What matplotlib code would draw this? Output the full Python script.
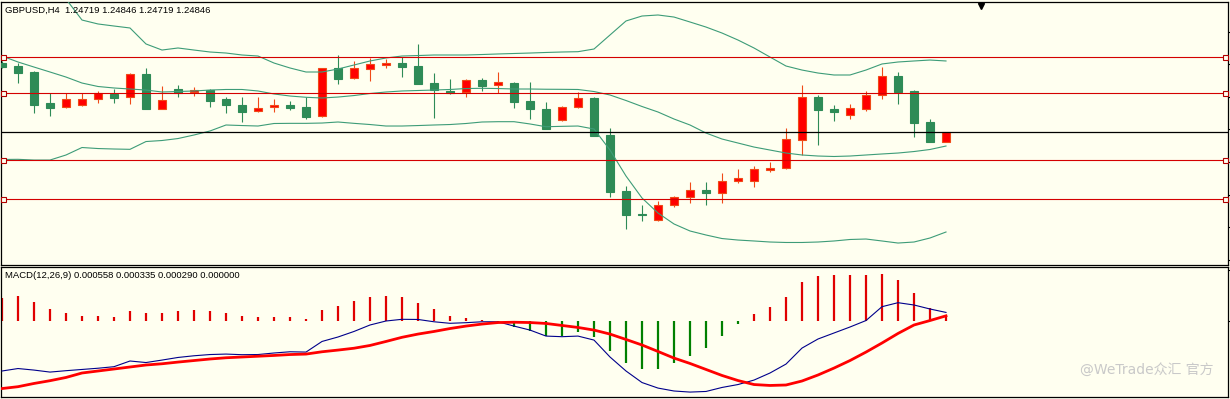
import matplotlib.pyplot as plt
from matplotlib.transforms import blended_transform_factory

# GBPUSD H4 candles (oldest -> newest)
opens = [1.25731, 1.25689, 1.25613, 1.25219, 1.25165, 1.25190, 1.25266, 1.25334, 1.25292, 1.25588,
         1.25147, 1.25397, 1.25355, 1.25380, 1.25266, 1.25190, 1.25114, 1.25165, 1.25190, 1.25165,
         1.25050, 1.25660, 1.25533, 1.25647, 1.25706, 1.25727, 1.25689, 1.25477, 1.25375, 1.25363,
         1.25511, 1.25444, 1.25473, 1.25245, 1.25143, 1.25000, 1.25165, 1.25283, 1.24813, 1.24102,
         1.23810, 1.23730, 1.23920, 1.24022, 1.24114, 1.24072, 1.24225, 1.24225, 1.24372, 1.24390,
         1.24753, 1.25292, 1.25139, 1.25063, 1.25149, 1.25317, 1.25562, 1.25375, 1.24978, 1.24719]
highs = [1.25753, 1.25731, 1.25629, 1.25342, 1.25342, 1.25342, 1.25372, 1.25397, 1.25604, 1.25664,
         1.25435, 1.25448, 1.25426, 1.25393, 1.25299, 1.25295, 1.25299, 1.25266, 1.25245, 1.25292,
         1.25664, 1.25829, 1.25753, 1.25787, 1.25774, 1.25807, 1.25969, 1.25600, 1.25520, 1.25524,
         1.25541, 1.25613, 1.25482, 1.25486, 1.25232, 1.25181, 1.25359, 1.25299, 1.24902, 1.24165,
         1.23924, 1.23975, 1.24038, 1.24216, 1.24216, 1.24334, 1.24381, 1.24419, 1.24474, 1.24898,
         1.25448, 1.25321, 1.25194, 1.25203, 1.25372, 1.25680, 1.25613, 1.25384, 1.25012, 1.24846]
lows = [1.25664, 1.25477, 1.25088, 1.25058, 1.25160, 1.25185, 1.25223, 1.25223, 1.25210, 1.25140,
        1.25140, 1.25299, 1.25312, 1.25172, 1.25096, 1.24982, 1.25108, 1.25109, 1.25130, 1.25020,
        1.25045, 1.25464, 1.25530, 1.25502, 1.25660, 1.25546, 1.25460, 1.25033, 1.25330, 1.25299,
        1.25375, 1.25342, 1.25160, 1.25020, 1.24885, 1.24995, 1.25160, 1.24796, 1.24022, 1.23615,
        1.23724, 1.23725, 1.23902, 1.23945, 1.23928, 1.23945, 1.24199, 1.24156, 1.24347, 1.24385,
        1.24559, 1.24682, 1.24994, 1.25012, 1.25121, 1.25266, 1.25203, 1.24791, 1.24723, 1.24719]
closes = [1.25680, 1.25604, 1.25198, 1.25160, 1.25266, 1.25266, 1.25342, 1.25287, 1.25588, 1.25147,
          1.25257, 1.25342, 1.25384, 1.25248, 1.25190, 1.25109, 1.25152, 1.25190, 1.25160, 1.25045,
          1.25660, 1.25528, 1.25668, 1.25715, 1.25727, 1.25680, 1.25464, 1.25384, 1.25350, 1.25507,
          1.25439, 1.25482, 1.25236, 1.25147, 1.24893, 1.25168, 1.25283, 1.24804, 1.24093, 1.23801,
          1.23793, 1.23924, 1.24029, 1.24114, 1.24072, 1.24229, 1.24263, 1.24377, 1.24398, 1.24762,
          1.25292, 1.25134, 1.25101, 1.25152, 1.25321, 1.25562, 1.25363, 1.24969, 1.24728, 1.24846]

# Bollinger bands (20,2)
bb_upper = [1.27035, 1.26908, 1.26807, 1.26680, 1.26540, 1.26273, 1.26223, 1.26197, 1.26172, 1.25969,
            1.25892, 1.25918, 1.25892, 1.25867, 1.25854, 1.25829, 1.25816, 1.25727, 1.25664, 1.25613,
            1.25613, 1.25651, 1.25702, 1.25753, 1.25791, 1.25816, 1.25822, 1.25829, 1.25829, 1.25829,
            1.25835, 1.25842, 1.25848, 1.25854, 1.25861, 1.25867, 1.25871, 1.25905, 1.26083, 1.26261,
            1.26324, 1.26337, 1.26311, 1.26248, 1.26184, 1.26108, 1.26019, 1.25918, 1.25803, 1.25689,
            1.25638, 1.25600, 1.25575, 1.25575, 1.25638, 1.25715, 1.25740, 1.25753, 1.25765, 1.25753]
bb_mid = [1.25816, 1.25740, 1.25676, 1.25613, 1.25549, 1.25473, 1.25429, 1.25410, 1.25397, 1.25384,
          1.25359, 1.25365, 1.25372, 1.25384, 1.25391, 1.25391, 1.25372, 1.25334, 1.25308, 1.25292,
          1.25283, 1.25295, 1.25314, 1.25340, 1.25359, 1.25372, 1.25378, 1.25384, 1.25391, 1.25403,
          1.25406, 1.25403, 1.25397, 1.25397, 1.25394, 1.25393, 1.25391, 1.25365, 1.25321, 1.25251,
          1.25175, 1.25105, 1.25016, 1.24940, 1.24838, 1.24762, 1.24711, 1.24660, 1.24622, 1.24584,
          1.24559, 1.24546, 1.24540, 1.24546, 1.24559, 1.24572, 1.24584, 1.24603, 1.24629, 1.24673]
bb_lower = [1.24502, 1.24504, 1.24495, 1.24495, 1.24559, 1.24654, 1.24641, 1.24635, 1.24631, 1.24730,
            1.24743, 1.24768, 1.24813, 1.24864, 1.24940, 1.24933, 1.24927, 1.24959, 1.24961, 1.24961,
            1.24965, 1.24978, 1.24961, 1.24946, 1.24927, 1.24927, 1.24933, 1.24940, 1.24946, 1.24959,
            1.24978, 1.24982, 1.24982, 1.24953, 1.24918, 1.24923, 1.24927, 1.24889, 1.24622, 1.24292,
            1.24013, 1.23822, 1.23683, 1.23594, 1.23543, 1.23498, 1.23479, 1.23467, 1.23454, 1.23448,
            1.23448, 1.23454, 1.23467, 1.23486, 1.23492, 1.23467, 1.23441, 1.23454, 1.23505, 1.23581]

# horizontal levels drawn on the chart, and the bid line
level_prices = [1.25800, 1.25350, 1.24500, 1.24000]
bid_price = 1.24846
price_ticks = [1.26127, 1.25713, 1.25299, 1.24885, 1.24471, 1.24057, 1.23643, 1.23229]

# MACD(12,26,9), in pips
macd_hist = [14.8, 16.4, 12.4, 7.8, 5.4, 3.4, 3.4, 2.6, 6.5, 5.0,
             5.4, 6.5, 7.2, 6.5, 5.4, 3.4, 2.6, 2.6, 2.6, 1.3,
             7.2, 9.8, 12.8, 15.6, 16.4, 15.8, 11.9, 7.8, 3.3, 1.8,
             0.6, -1.5, -3.7, -6.3, -9.8, -9.8, -7.0, -10.2, -19.3, -27.1,
             -31.4, -31.0, -27.5, -22.6, -17.4, -9.6, -2.1, 4.6, 9.1, 15.8,
             25.4, 29.3, 29.9, 29.9, 29.9, 30.6, 26.7, 18.4, 8.3, 2.9]
macd_main = [-32.5, -30.9, -31.9, -33.2, -32.3, -31.5, -30.7, -29.7, -26.0, -27.0,
             -25.4, -23.7, -22.6, -21.8, -21.5, -21.9, -21.8, -20.8, -20.0, -20.2,
             -13.3, -10.4, -6.8, -2.6, 0.0, 1.1, 1.0, -0.5, -1.5, -1.1,
             -0.5, -0.5, -3.3, -5.9, -9.8, -10.2, -9.8, -12.4, -23.4, -32.5,
             -40.0, -43.6, -45.5, -46.2, -45.8, -43.2, -41.3, -38.4, -33.8, -28.0,
             -17.6, -11.7, -7.8, -3.9, 0.3, 9.3, 11.9, 10.4, 7.8, 5.58]
macd_signal = [-43.9, -42.7, -40.6, -38.8, -36.7, -33.8, -32.5, -31.2, -29.9, -28.6,
               -27.8, -26.7, -25.7, -24.7, -23.9, -23.4, -22.9, -22.4, -21.8, -21.5,
               -20.0, -18.9, -17.7, -15.9, -13.3, -10.6, -8.5, -6.8, -4.9, -3.3,
               -2.0, -1.0, -0.8, -1.0, -1.6, -2.9, -4.2, -5.9, -8.5, -12.0,
               -15.6, -19.8, -24.1, -27.6, -31.5, -35.4, -38.7, -41.3, -41.9, -41.6,
               -39.0, -35.1, -30.6, -25.7, -20.2, -14.3, -8.1, -2.6, 0.3, 3.35]
macd_ticks = [33.2, 0.0]

title = "GBPUSD,H4  1.24719 1.24846 1.24719 1.24846"
macd_label = "MACD(12,26,9) 0.000558 0.000335 0.000290 0.000000"
watermark = "@WeTrade众汇 官方"

bg = '#FFFFF0'
up_body, up_edge = '#FF0000', '#F04A18'
dn_body, dn_edge = '#2E8B57', '#2E8B57'
band_color = '#3D9C78'

W, H = 1230, 399
fig = plt.figure(figsize=(W / 100, H / 100), dpi=100, facecolor=bg)
ax = fig.add_axes([0.5 / W, (H - 265) / H, 1227.5 / W, 263 / H], facecolor=bg)
ax2 = fig.add_axes([0.5 / W, (H - 397) / H, 1227.5 / W, 130 / H], facecolor=bg, sharex=ax)

n = len(opens)
idx = list(range(n))

# candles
for i in idx:
    o, h, l, c = opens[i], highs[i], lows[i], closes[i]
    up = c >= o
    body = up_body if up else dn_body
    edge = up_edge if up else dn_edge
    ax.vlines(i, l, h, color=edge, lw=0.8, zorder=2)
    lo = min(o, c)
    ht = max(abs(c - o), 0.00002)
    ax.bar(i, ht, bottom=lo, width=0.56, color=body, edgecolor=edge, linewidth=0.8, zorder=3)

# bollinger bands
for band in (bb_upper, bb_mid, bb_lower):
    ax.plot(idx, band, color=band_color, lw=0.8, zorder=4)

# levels with little squares at both ends
trans = blended_transform_factory(ax.transAxes, ax.transData)
for p in level_prices:
    ax.axhline(p, color='#D40000', lw=0.8, zorder=5)
    ax.plot([3 / 1228, 1225 / 1228], [p, p], 's', transform=trans, ms=3.6,
            mfc=bg, mec='#B00000', mew=0.8, zorder=6, clip_on=False)
ax.axhline(bid_price, color='black', lw=0.9, zorder=5)

# chart shift marker at the top
shift_bar = 61.2
trans_top = blended_transform_factory(ax.transData, ax.transAxes)
ax.plot([shift_bar], [0.985], marker='v', color='black', ms=5, transform=trans_top,
        clip_on=False, zorder=7)

ax.set_xlim((0.5 - 2) / 16, (1228 - 2) / 16)
ax.set_ylim(1.23162, 1.26502)

# MACD panel
hist_colors = ['#E00000' if v >= 0 else '#008000' for v in macd_hist]
ax2.vlines(idx, 0, macd_hist, colors=hist_colors, lw=1.6, zorder=2)
ax2.plot(idx, macd_main, color='#00008B', lw=0.8, zorder=3)
ax2.plot(idx, macd_signal, color='#FF0000', lw=2.0, zorder=4)
ax2.set_ylim(-49.4, 35.1)

for a, ticks in ((ax, price_ticks), (ax2, macd_ticks)):
    a.yaxis.tick_right()
    a.set_yticks(ticks)
    a.tick_params(axis='y', direction='out', length=2, width=0.8, color='black',
                  labelright=False, labelleft=False)
    a.tick_params(axis='x', bottom=False, labelbottom=False)
    for s in a.spines.values():
        s.set_color('black')
        s.set_linewidth(0.9)

fig.text(5 / W, 1 - 10.7 / H, title, fontsize=6.8, family='Liberation Sans',
         va='center', ha='left', color='black')
fig.text(5 / W, 1 - 276 / H, macd_label, fontsize=6.8, family='Liberation Sans',
         va='center', ha='left', color='black')
fig.text(1080 / W, 1 - 370 / H, watermark, fontsize=10,
         family=['DejaVu Sans', 'Noto Sans CJK SC'], va='center', ha='left',
         color='#c9c9c9')

fig.savefig('out.png', dpi=100, facecolor=bg)
